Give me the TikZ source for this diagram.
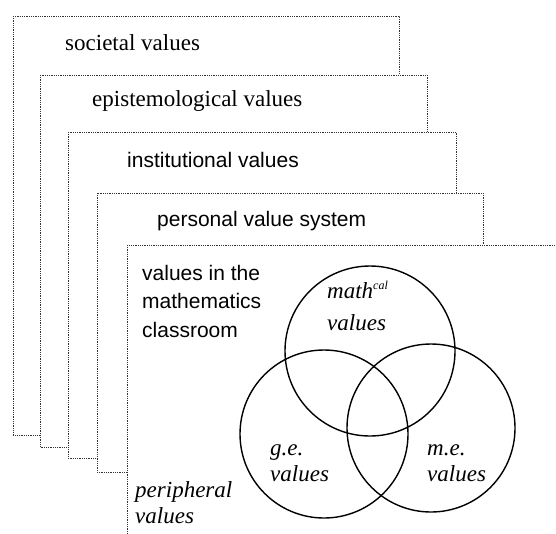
\documentclass[tikz,border=0pt]{standalone}
\usepackage{fontspec}
\setmainfont{Liberation Serif}
\setsansfont{Liberation Sans}
\usepackage{tikz}

\begin{document}
\begin{tikzpicture}[x=1pt,y=-1pt,inner sep=0pt]
		\tikzstyle{layer}=[draw=black!80,densely dotted,line width=0.8pt,fill=white]
		\tikzstyle{ring}=[draw=black,line width=1.4pt]
		\tikzstyle{serif label}=[anchor=base west,font=\fontsize{23}{27}\selectfont]
		\tikzstyle{sans label}=[anchor=base west,font=\sffamily\fontsize{21}{28.5}\selectfont]
		\tikzstyle{inner label}=[align=left,font=\itshape\fontsize{23}{26}\selectfont]

		\clip (0,0) rectangle (556,533);
		\useasboundingbox (0,0) rectangle (556,533);

		% nested layers, outermost first
		\path[layer] (13,16) rectangle (399,435);
		\path[layer] (40,75) rectangle (427,447);
		\path[layer] (68,132) rectangle (456,458);
		\path[layer] (97,193) rectangle (483,472);
		\path[layer] (127,245) rectangle (575,550);

		\node[serif label] (societal) at (65,50) {societal values};
		\node[serif label] (episte) at (92,106) {epistemological values};
		\node[sans label] (institut) at (127,167) {institutional values};
		\node[sans label] (personal) at (157,226) {personal value system};
		\node[sans label,align=left,anchor=north west] (classroom) at (142,265)
			{values in the\\mathematics\\classroom};

		% the three circles
		\draw[ring] (370,351) circle [radius=85pt];
		\draw[ring] (324,434) circle [radius=84pt];
		\draw[ring] (431,428) circle [radius=84pt];

		\node[inner label,anchor=north west,font=\itshape\fontsize{23}{32}\selectfont] (math) at (327,281)
			{math\raisebox{9pt}{\fontsize{12}{12}\selectfont cal}\\values};
		\node[inner label,anchor=north west] (ge) at (270,444) {g.e.\\values};
		\node[inner label,anchor=north west] (me) at (427,444) {m.e.\\values};
		\node[inner label,anchor=north west] (periph) at (135,481) {peripheral\\values};

	\end{tikzpicture}
\end{document}
